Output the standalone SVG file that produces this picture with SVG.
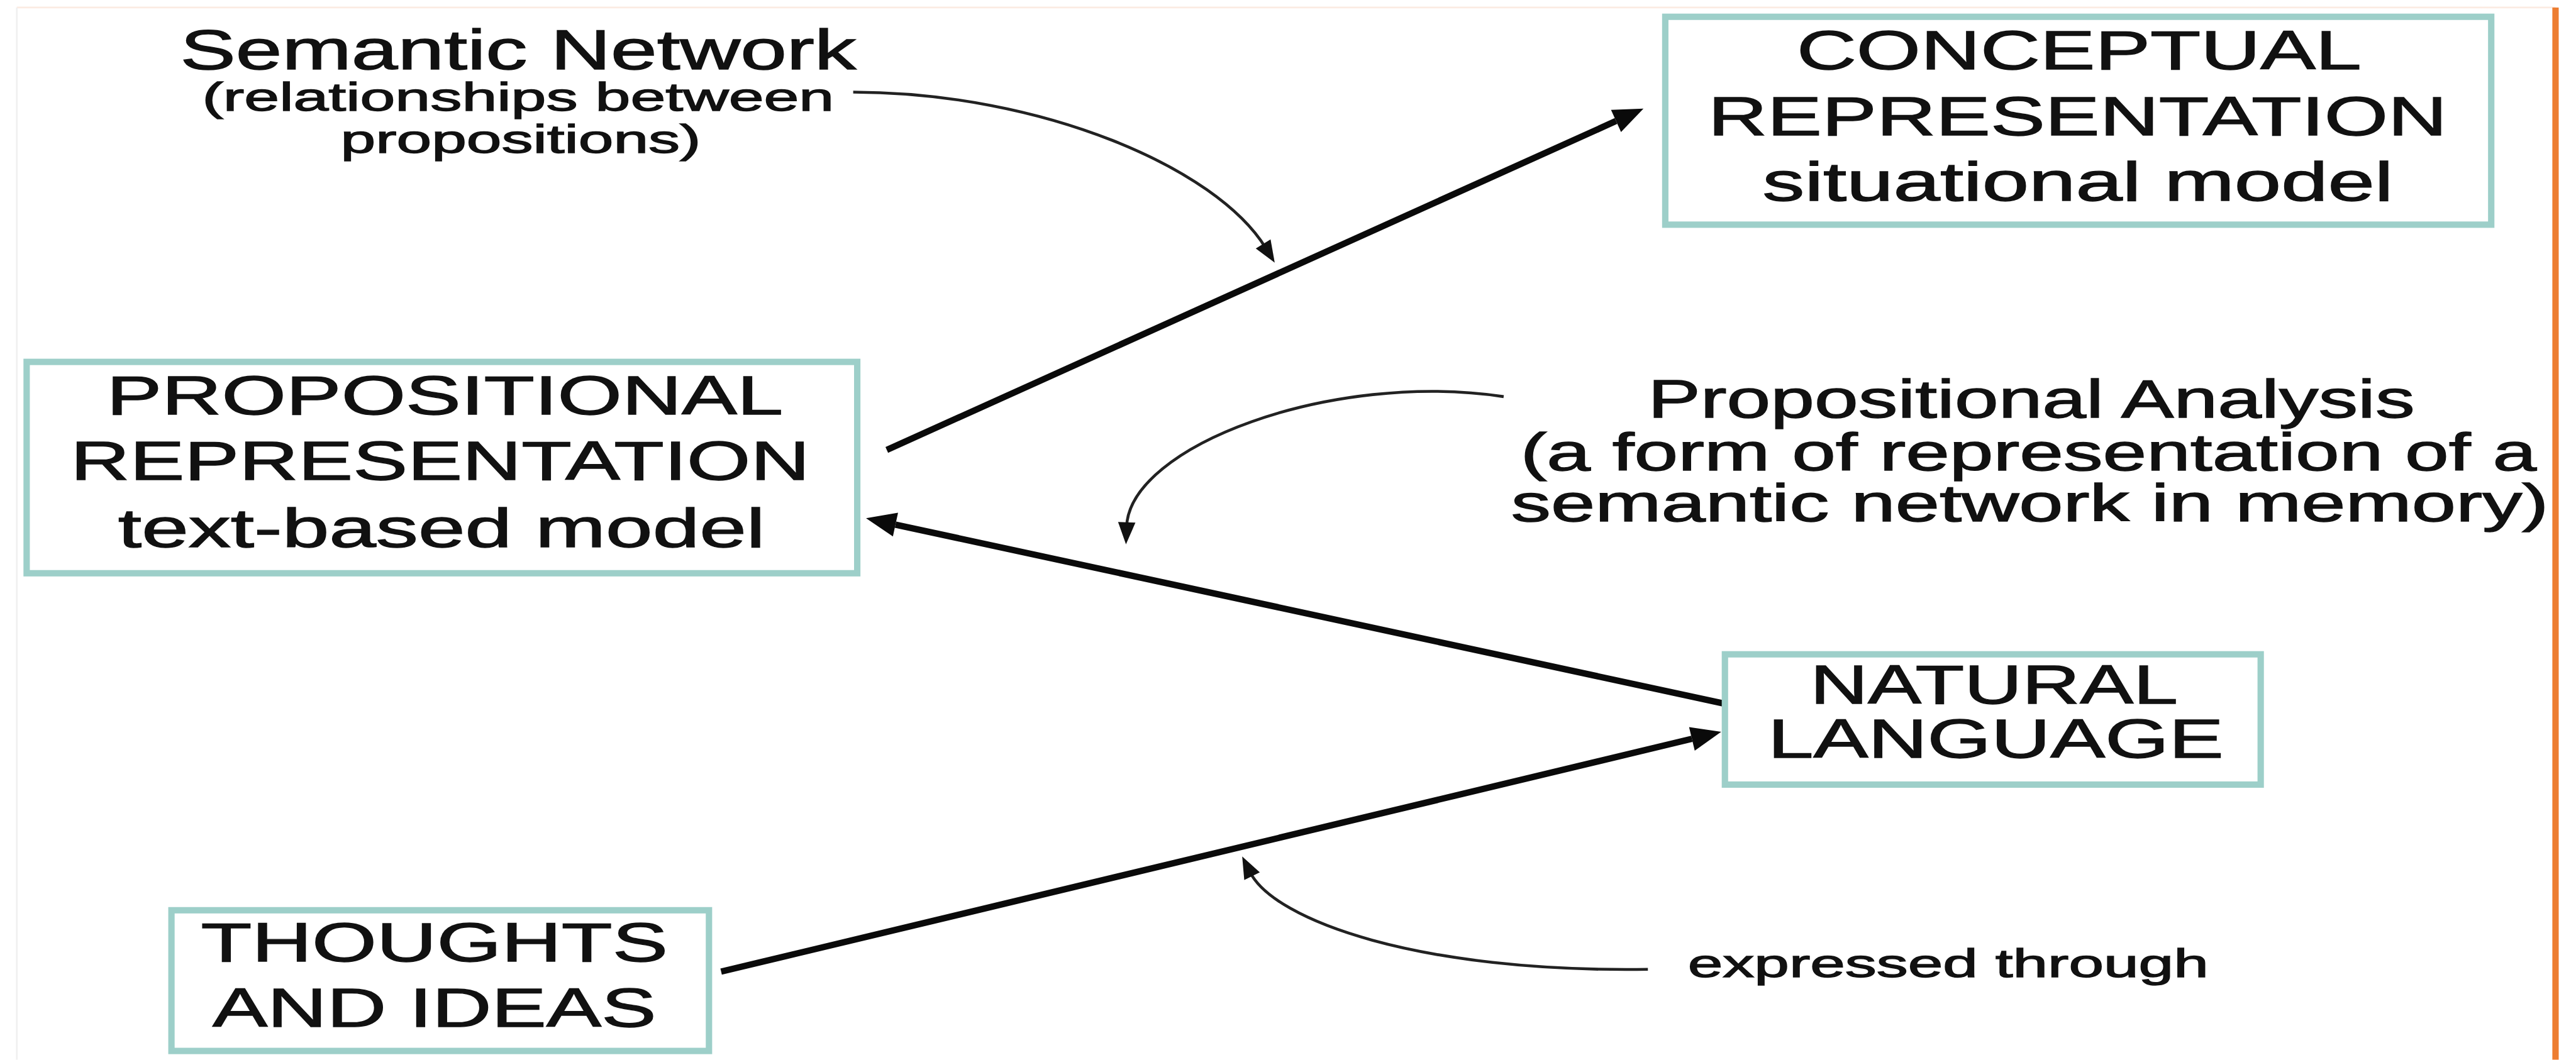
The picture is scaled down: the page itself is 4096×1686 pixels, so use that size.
<svg xmlns="http://www.w3.org/2000/svg" width="4096" height="1686" viewBox="0 0 4096 1686">
<style>
.box{fill:#ffffff;stroke:#9dcfc9;stroke-width:11}
.t{font-family:"Liberation Sans",Arial,sans-serif;fill:#111111;stroke:#111111;stroke-width:1.5}
.big{font-size:95px}
.small{font-size:68px}
.thick{fill:none;stroke:#0a0a0a;stroke-width:11;stroke-linecap:butt}
.thin{fill:none;stroke:#222222;stroke-width:5}
</style>
<defs>
<marker id="ahBig" markerUnits="userSpaceOnUse" orient="auto" markerWidth="60" markerHeight="50" refX="0" refY="21" overflow="visible">
<path d="M0,0 L52,21 L0,42 z" fill="#0a0a0a"/>
</marker>
<marker id="ahThin" markerUnits="userSpaceOnUse" orient="auto" markerWidth="44" markerHeight="34" refX="8" refY="15" overflow="visible">
<path d="M0,0 L38,15 L0,30 z" fill="#111111"/>
</marker>
</defs>
<rect x="0" y="0" width="4096" height="1686" fill="#ffffff"/>
<g transform="scale(0.921)">
<g id="frame">
<line x1="29" y1="13" x2="4412" y2="13" stroke="#fbebe2" stroke-width="3"/>
<line x1="29" y1="13" x2="29" y2="1830" stroke="#f0f0f0" stroke-width="3"/>
<line x1="4412" y1="13" x2="4412" y2="1830" stroke="#ed7d31" stroke-width="11"/>
</g>
<g id="connectors">
<path class="thick" d="M1531,777 L2790,209" marker-end="url(#ahBig)"/>
<path class="thick" d="M2976,1215 L1546,906" marker-end="url(#ahBig)"/>
<path class="thick" d="M1245,1678 L2921,1276" marker-end="url(#ahBig)"/>
<path class="thin" d="M1473,159 C1800,160 2100,290 2185,428" marker-end="url(#ahThin)"/>
<path class="thin" d="M2596,685 C2300,640 1950,770 1945,910" marker-end="url(#ahThin)"/>
<path class="thin" d="M2845,1674 C2450,1680 2200,1590 2158,1506" marker-end="url(#ahThin)"/>
</g>
<g id="semantic-network-label">
<text class="t"><tspan x="311" y="119" font-size="96" textLength="1167" lengthAdjust="spacingAndGlyphs">Semantic Network</tspan><tspan class="small" x="349" y="191" textLength="1091" lengthAdjust="spacingAndGlyphs">(relationships between</tspan><tspan class="small" x="588" y="264" textLength="622" lengthAdjust="spacingAndGlyphs">propositions)</tspan></text>
</g>
<g id="conceptual">
<rect class="box" x="2875" y="29" width="1426" height="359"/>
<text class="t big"><tspan x="3102" y="119" textLength="975" lengthAdjust="spacingAndGlyphs">CONCEPTUAL</tspan><tspan x="2949" y="233" textLength="1276" lengthAdjust="spacingAndGlyphs">REPRESENTATION</tspan><tspan x="3043" y="346" textLength="1089" lengthAdjust="spacingAndGlyphs">situational model</tspan></text>
</g>
<g id="propositional">
<rect class="box" x="46" y="625" width="1434" height="365"/>
<text class="t big"><tspan x="184" y="715" textLength="1168" lengthAdjust="spacingAndGlyphs">PROPOSITIONAL</tspan><tspan x="122" y="828" textLength="1276" lengthAdjust="spacingAndGlyphs">REPRESENTATION</tspan><tspan x="204" y="945" textLength="1117" lengthAdjust="spacingAndGlyphs">text-based model</tspan></text>
</g>
<g id="propositional-analysis-label">
<text class="t"><tspan x="2845" y="721" font-size="93" textLength="1324" lengthAdjust="spacingAndGlyphs">Propositional Analysis</tspan><tspan x="2625" y="812" font-size="90" textLength="1754" lengthAdjust="spacingAndGlyphs">(a form of representation of a</tspan><tspan x="2609" y="900" font-size="90" textLength="1791" lengthAdjust="spacingAndGlyphs">semantic network in memory)</tspan></text>
</g>
<g id="natural-language">
<rect class="box" x="2978" y="1130" width="925" height="225"/>
<text class="t big"><tspan x="3125" y="1215" textLength="635" lengthAdjust="spacingAndGlyphs">NATURAL</tspan><tspan x="3052" y="1308" textLength="787" lengthAdjust="spacingAndGlyphs">LANGUAGE</tspan></text>
</g>
<g id="thoughts">
<rect class="box" x="296" y="1572" width="928" height="243"/>
<text class="t big"><tspan x="347" y="1660" textLength="806" lengthAdjust="spacingAndGlyphs">THOUGHTS</tspan><tspan x="367" y="1773" textLength="766" lengthAdjust="spacingAndGlyphs">AND IDEAS</tspan></text>
</g>
<g id="expressed-through-label">
<text class="t small" x="2914" y="1687" textLength="899" lengthAdjust="spacingAndGlyphs">expressed through</text>
</g>
</g>
</svg>
